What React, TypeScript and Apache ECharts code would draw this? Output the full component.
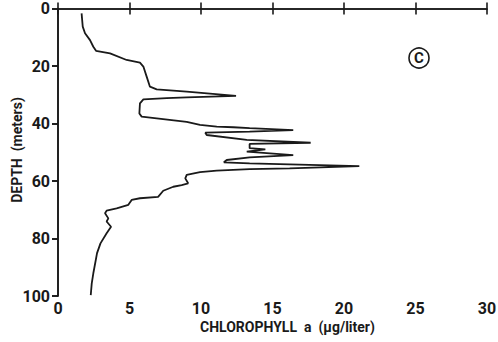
import React, { useEffect, useRef } from "react";
import * as echarts from "echarts";

const chlorophyll = [
  1.65, 1.73, 1.89, 2.24, 2.47, 2.66, 3.64, 4.8, 5.73, 5.97, 6.2, 6.43, 6.9, 9.0, 12.45,
  9.0, 7.6, 5.97, 5.73, 5.69, 5.85, 6.9, 9.0, 9.93, 11.1, 12.26, 13.4, 16.45,
  13.4, 10.3, 10.4, 13.2, 17.67, 13.4, 13.4, 14.5, 13.2, 16.45, 13.4, 11.8, 11.6, 13.4, 21.07,
  16.2, 13.4, 11.1, 9.93, 9.0, 8.9, 9.1, 8.65, 8.06, 7.36, 7.0, 5.73, 5.15, 4.92, 4.1,
  3.4, 3.29, 3.52, 3.4, 3.71, 3.4, 2.97, 2.73, 2.6, 2.47, 2.36, 2.29,
];
const depth = [
  1.7, 6.3, 8.6, 11, 13.3, 14.7, 15.6, 17.9, 18.8, 20.2, 23.7, 27.2, 28.1, 28.9, 30.4,
  30.9, 31.2, 31.6, 33, 36.5, 37.6, 38.2, 39.4, 40.5, 41.1, 41.3, 41.6, 42.3,
  42.8, 43.2, 44, 45.7, 46.7, 47.1, 48.6, 49, 49.8, 51, 51.8, 52.7, 53.5, 53.9, 54.8,
  55.6, 55.9, 56.4, 56.9, 57.9, 59.1, 60.8, 61.4, 62, 63.4, 65.5, 66, 66.6, 68.3, 69.5,
  70.3, 71.2, 73, 74.1, 75.9, 78.2, 81.7, 85.1, 88.6, 92.1, 95.6, 99.7,
];
const xTicks = [0, 5, 10, 15, 20, 25, 30];
const yTicks = [0, 20, 40, 60, 80, 100];
const xName = "CHLOROPHYLL  a  (µg/liter)";
const yName = "DEPTH  (meters)";
const panelLabel = "C";

const FONT = "Roboto, 'Liberation Sans', sans-serif";
const INK = "#1a1a1a";

export default function App() {
  const ref = useRef<HTMLDivElement>(null);
  useEffect(() => {
    if (!ref.current) return;
    const chart = echarts.init(ref.current, undefined, { renderer: "svg" });
    const pts = chlorophyll.map((c, i) => [c, depth[i]]);
    const lineStyle = { color: INK, width: 1.6 };
    chart.setOption({
      animation: false,
      backgroundColor: "#ffffff",
      grid: {
        left: 58,
        top: 8.5,
        right: 11,
        bottom: 46,
        containLabel: false,
        outerBoundsMode: "none",
      },
      xAxis: [
        {
          type: "value",
          min: xTicks[0],
          max: xTicks[xTicks.length - 1],
          interval: 5,
          position: "bottom",
          axisLine: { show: true, lineStyle },
          axisTick: { show: true, inside: true, length: 6, lineStyle },
          splitLine: { show: false },
          axisLabel: {
            color: INK,
            fontFamily: FONT,
            fontWeight: "bold",
            fontSize: 16,
            margin: 4,
          },
        },
        {
          type: "value",
          min: xTicks[0],
          max: xTicks[xTicks.length - 1],
          interval: 5,
          position: "top",
          axisLine: { show: true, lineStyle },
          axisTick: { show: true, inside: true, length: 6, lineStyle },
          splitLine: { show: false },
          axisLabel: { show: false },
        },
      ],
      yAxis: [
        {
          type: "value",
          inverse: true,
          min: yTicks[0],
          max: yTicks[yTicks.length - 1],
          interval: 20,
          position: "left",
          axisLine: { show: true, lineStyle },
          axisTick: { show: true, inside: false, length: 6, lineStyle },
          splitLine: { show: false },
          axisLabel: {
            color: INK,
            fontFamily: FONT,
            fontWeight: "bold",
            fontSize: 16,
            margin: 8,
          },
        },
        {
          type: "value",
          inverse: true,
          min: yTicks[0],
          max: yTicks[yTicks.length - 1],
          interval: 20,
          position: "right",
          axisLine: { show: true, lineStyle },
          axisTick: { show: true, inside: true, length: 6, lineStyle },
          splitLine: { show: false },
          axisLabel: { show: false },
        },
      ],
      graphic: [
        {
          type: "text",
          x: 200,
          y: 327,
          style: {
            text: xName,
            fill: INK,
            font: `bold 14px ${FONT}`,
            verticalAlign: "middle",
          },
        },
        {
          type: "text",
          x: 17,
          y: 150,
          rotation: Math.PI / 2,
          style: {
            text: yName,
            fill: INK,
            font: `bold 14px ${FONT}`,
            align: "center",
            verticalAlign: "middle",
          },
        },
        {
          type: "circle",
          shape: { cx: 419, cy: 58, r: 10 },
          style: { fill: "none", stroke: INK, lineWidth: 1.6 },
        },
        {
          type: "text",
          x: 419,
          y: 58,
          style: {
            text: panelLabel,
            fill: INK,
            font: `bold 15px ${FONT}`,
            align: "center",
            verticalAlign: "middle",
          },
        },
      ],
      series: [
        {
          type: "line",
          data: pts,
          showSymbol: false,
          symbol: "none",
          lineStyle: { color: INK, width: 1.8 },
          xAxisIndex: 0,
          yAxisIndex: 0,
        },
      ],
    });
    return () => chart.dispose();
  }, []);
  return (
    <div
      ref={ref}
      style={{ position: "fixed", left: 0, top: 0, width: 498, height: 342 }}
    />
  );
}
